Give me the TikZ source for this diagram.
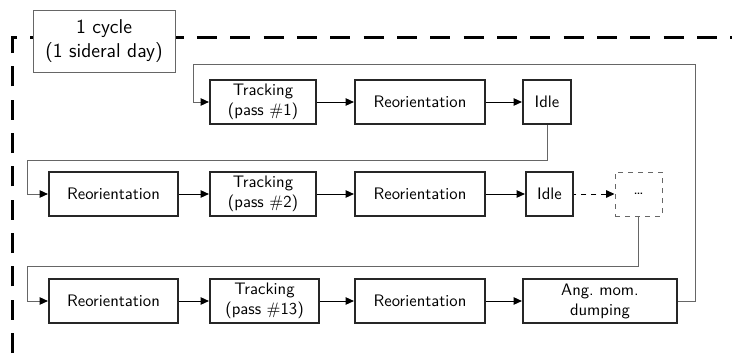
\documentclass[tikz,border=0pt]{standalone}
\usetikzlibrary{arrows.meta}
\tikzset{
	blk/.style={draw=black!85, line width=1.3pt, minimum height=26.4pt, inner sep=1pt, align=center, font=\sffamily},
	link/.style={draw=black, line width=0.6pt},
	back/.style={draw=black!60, line width=0.6pt},
}
\begin{document}
\begin{tikzpicture}[x=0.6pt, y=-0.6pt, >={Triangle[length=5pt,width=4.5pt,color=black]}]
			\useasboundingbox (0,0) rectangle (732,353);
			\draw[line width=1.8pt, dash pattern=on 12pt off 8pt] (12,353) -- (12,38) -- (732,38);
			\node (Cy) at (104,41) [draw=black!60, fill=white, line width=0.5pt, minimum width=85.2pt, minimum height=37.2pt, align=center, font=\sffamily\large] {1 cycle\\(1 sideral day)};
			% first pass
			\node (Tr1) at (263,102) [blk, minimum width=63.6pt] {Tracking\\(pass \#1)};
			\node (Re1) at (420,102) [blk, minimum width=78pt] {Reorientation} edge [<-, link] (Tr1);
			\node (Id1) at (547,102) [blk, minimum width=28.8pt] {Idle} edge [<-, link] (Re1);
			% second pass
			\node (Re2) at (113.5,194) [blk, minimum width=77.4pt] {Reorientation};
			\node (Tr2) at (263,194) [blk, minimum width=63.6pt] {Tracking\\(pass \#2)} edge [<-, link] (Re2);
			\node (Re3) at (420,194) [blk, minimum width=78pt] {Reorientation} edge [<-, link] (Tr2);
			\node (Id2) at (549.5,194) [blk, minimum width=28.2pt] {Idle} edge [<-, link] (Re3);
			\node (Dt) at (638.5,194) [draw=black!60, dashed, line width=0.6pt, minimum width=28.2pt, minimum height=26.4pt, font=\sffamily] {\dots} edge [<-, link, dashed] (Id2);
			% last pass
			\node (Re4) at (113.5,301) [blk, minimum width=77.4pt] {Reorientation};
			\node (Tr3) at (264.5,301) [blk, minimum width=65.4pt] {Tracking\\(pass \#13)} edge [<-, link] (Re4);
			\node (Re5) at (420,301) [blk, minimum width=78pt] {Reorientation} edge [<-, link] (Tr3);
			\node (Am) at (600,301) [blk, minimum width=92.4pt] {Ang.\ mom.\\dumping} edge [<-, link] (Re5);
			% loops
			\coordinate (l1) at (27,160);
			\coordinate (l2) at (27,266);
			\coordinate (r1) at (695,65);
			\coordinate (l3) at (193,65);
			\draw[back, ->] (Id1.south) |- (l1) |- (Re2.west);
			\draw[back, ->] (Dt.south) |- (l2) |- (Re4.west);
			\draw[back, ->] (Am.east) -| (r1) -| (l3) |- (Tr1.west);
		\end{tikzpicture}
\end{document}
